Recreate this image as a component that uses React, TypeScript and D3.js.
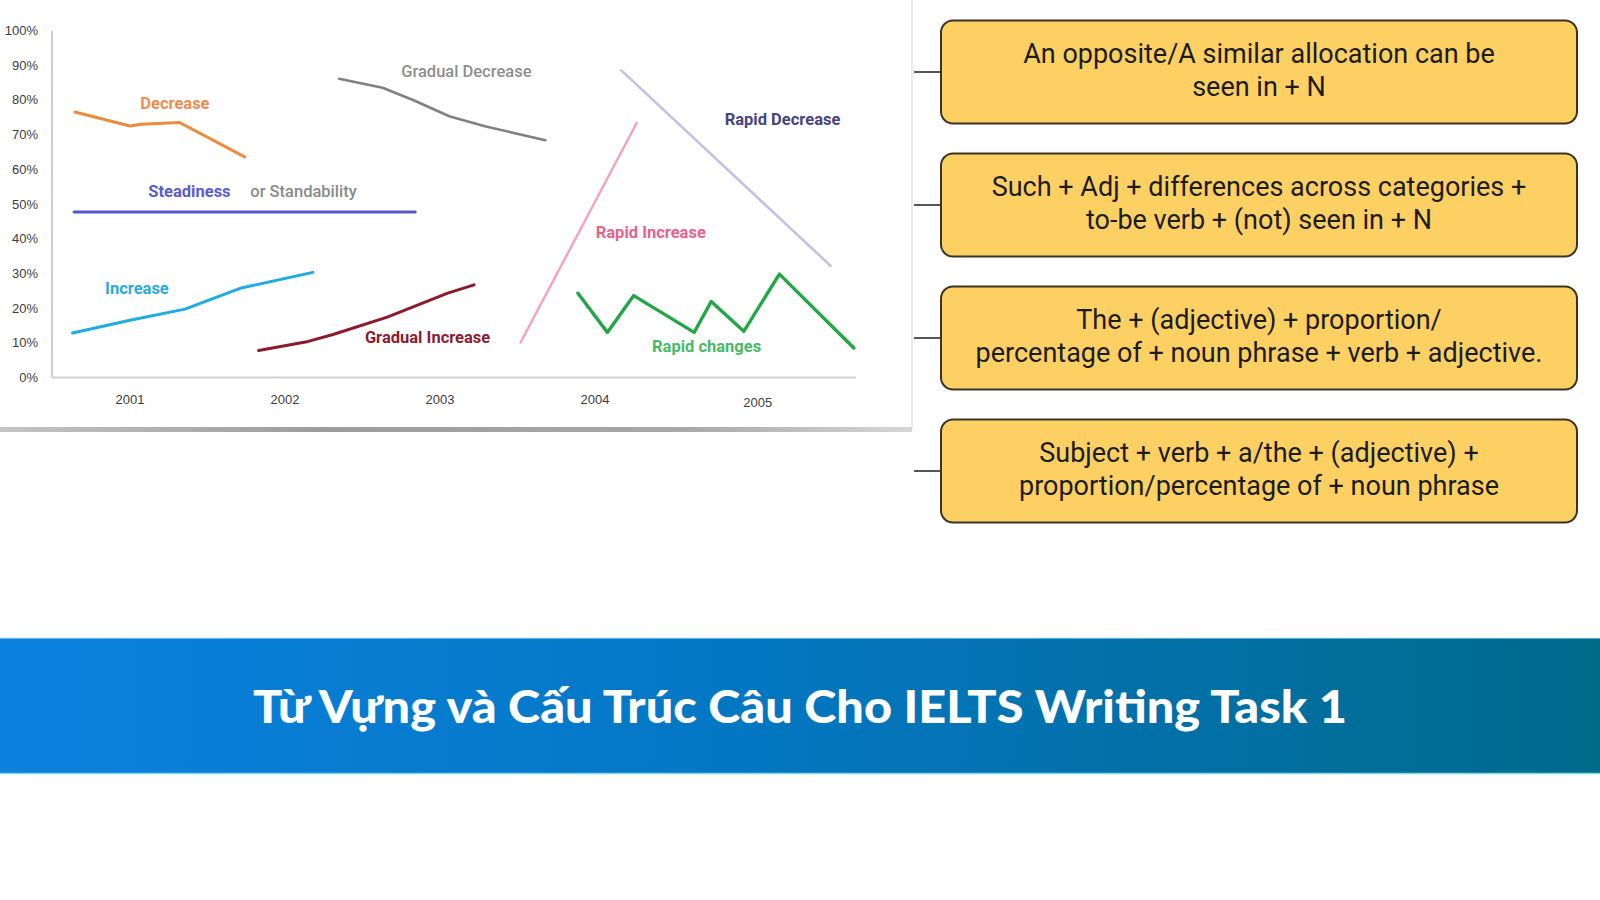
import { useEffect } from "react";
import * as d3 from "d3";

// ---- chart data (x in year units, y in percent) ----
const yTicks = [0, 10, 20, 30, 40, 50, 60, 70, 80, 90, 100];
const xTickYears = ["2001", "2002", "2003", "2004", "2005"];
const xTickPos = [2001, 2002, 2003, 2004, 2005.05];

const decrease = [
  { x: 2000.645, y: 76.5 }, { x: 2001.0, y: 72.5 }, { x: 2001.075, y: 73.0 },
  { x: 2001.32, y: 73.5 }, { x: 2001.74, y: 63.6 },
];
const steadiness = [{ x: 2000.64, y: 47.7 }, { x: 2002.84, y: 47.7 }];
const increase = [
  { x: 2000.63, y: 12.8 }, { x: 2001.0, y: 16.5 }, { x: 2001.355, y: 19.7 },
  { x: 2001.71, y: 25.7 }, { x: 2002.18, y: 30.3 },
];
const gradualIncrease = [
  { x: 2001.83, y: 7.8 }, { x: 2002.15, y: 10.4 }, { x: 2002.31, y: 12.4 },
  { x: 2002.66, y: 17.4 }, { x: 2003.05, y: 24.3 }, { x: 2003.22, y: 26.7 },
];
const gradualDecrease = [
  { x: 2002.35, y: 86.1 }, { x: 2002.63, y: 83.5 }, { x: 2002.83, y: 79.9 },
  { x: 2003.06, y: 75.3 }, { x: 2003.29, y: 72.4 }, { x: 2003.68, y: 68.4 },
];
const rapidIncrease = [{ x: 2003.52, y: 10.1 }, { x: 2004.27, y: 73.4 }];
const rapidDecrease = [{ x: 2004.17, y: 88.5 }, { x: 2005.52, y: 32.2 }];
const rapidChanges = [
  { x: 2003.89, y: 24.3 }, { x: 2004.08, y: 13.0 }, { x: 2004.25, y: 23.6 },
  { x: 2004.64, y: 13.0 }, { x: 2004.75, y: 21.9 }, { x: 2004.96, y: 13.3 },
  { x: 2005.19, y: 29.8 }, { x: 2005.67, y: 8.5 },
];

const series = [
  { name: "decrease", points: decrease, color: "#ee8a3c", width: 3 },
  { name: "steadiness", points: steadiness, color: "#5656cc", width: 3.2 },
  { name: "increase", points: increase, color: "#1faae2", width: 3 },
  { name: "gradualIncrease", points: gradualIncrease, color: "#8a1a2c", width: 3 },
  { name: "gradualDecrease", points: gradualDecrease, color: "#808080", width: 2.6 },
  { name: "rapidIncrease", points: rapidIncrease, color: "#f4a3b6", width: 2.4 },
  { name: "rapidDecrease", points: rapidDecrease, color: "#c4c1e6", width: 2.6 },
  { name: "rapidChanges", points: rapidChanges, color: "#22a646", width: 3.4 },
];

const annotations = [
  { text: "Decrease", x: 2001.29, y: 79.0, color: "#f08c50", weight: 700 },
  { text: "Steadiness", x: 2001.384, y: 53.8, color: "#5a5ad2", weight: 700 },
  { text: "or Standability", x: 2002.12, y: 53.8, color: "#8a8a8a", weight: 500 },
  { text: "Increase", x: 2001.045, y: 25.6, color: "#2ba9e0", weight: 700 },
  { text: "Gradual Increase", x: 2002.92, y: 11.5, color: "#8c1c30", weight: 700 },
  { text: "Gradual Decrease", x: 2003.17, y: 88.3, color: "#8e8e8e", weight: 500 },
  { text: "Rapid Decrease", x: 2005.21, y: 74.4, color: "#46447e", weight: 700 },
  { text: "Rapid Increase", x: 2004.36, y: 42.0, color: "#e9628c", weight: 700 },
  { text: "Rapid changes", x: 2004.72, y: 9.0, color: "#4cb867", weight: 700 },
];

// ---- right-hand sentence boxes ----
const boxLines = [
  ["An opposite/A similar allocation can be", "seen in + N"],
  ["Such + Adj + differences across categories +", "to-be verb + (not) seen in + N"],
  ["The + (adjective) + proportion/", "percentage of + noun phrase + verb + adjective."],
  ["Subject + verb + a/the + (adjective) +", "proportion/percentage of + noun phrase"],
];

const title = "Từ Vựng và Cấu Trúc Câu Cho IELTS Writing Task 1";

export default function App() {
  useEffect(() => {
    document.body.style.margin = "0";
  }, []);

  const W = 1600;
  const H = 900;

  const x = d3.scaleLinear().domain([2000.497, 2005.684]).range([52, 856]);
  const y = d3.scaleLinear().domain([0, 100]).range([377.5, 30.5]);

  const line = d3
    .line<{ x: number; y: number }>()
    .x((d) => x(d.x))
    .y((d) => y(d.y));

  // box layout
  const boxX = 941;
  const boxW = 636;
  const boxH = 103;
  const boxY = d3.scaleLinear().domain([0, 1]).range([20.5, 153.5]);

  return (
    <svg width={W} height={H} style={{ display: "block", background: "#fff" }}>
      <defs>
        <linearGradient id="banner" x1="0" x2="1" y1="0" y2="0">
          <stop offset="0%" stopColor="#0b81de" />
          <stop offset="45%" stopColor="#0477c4" />
          <stop offset="100%" stopColor="#006a8b" />
        </linearGradient>
        <linearGradient id="shadow" x1="0" x2="1" y1="0" y2="0">
          <stop offset="0%" stopColor="#c4c4c4" />
          <stop offset="35%" stopColor="#9c9c9c" />
          <stop offset="75%" stopColor="#a8a8a8" />
          <stop offset="100%" stopColor="#d6d6d6" />
        </linearGradient>
      </defs>

      {/* chart panel */}
      <rect x={0} y={0} width={912} height={427} fill="#ffffff" />
      <line x1={912} x2={912} y1={0} y2={428} stroke="#e2e2e2" strokeWidth={1.5} />
      <rect x={0} y={427} width={912} height={5} fill="url(#shadow)" />

      {/* axes */}
      <line x1={x.range()[0]} x2={x.range()[0]} y1={y(100)} y2={y(0)} stroke="#cfcfcf" strokeWidth={2} />
      <line x1={x.range()[0]} x2={x.range()[1]} y1={y(0)} y2={y(0)} stroke="#cfcfcf" strokeWidth={2} />

      {yTicks.map((t) => (
        <text
          key={t}
          x={38}
          y={y(t)}
          dy="0.35em"
          textAnchor="end"
          fontFamily="Liberation Sans, Arial, sans-serif"
          fontSize={13}
          fill="#3c3c3c"
        >
          {t + "%"}
        </text>
      ))}
      {xTickYears.map((t, i) => (
        <text
          key={t}
          x={x(xTickPos[i])}
          y={404 + (i === 4 ? 3 : 0)}
          textAnchor="middle"
          fontFamily="Liberation Sans, Arial, sans-serif"
          fontSize={13}
          fill="#3c3c3c"
        >
          {t}
        </text>
      ))}

      {/* trend lines */}
      {series.map((s) => (
        <path
          key={s.name}
          d={line(s.points) || ""}
          fill="none"
          stroke={s.color}
          strokeWidth={s.width}
          strokeLinejoin="round"
          strokeLinecap="round"
        />
      ))}

      {annotations.map((a) => (
        <text
          key={a.text}
          x={x(a.x)}
          y={y(a.y)}
          dy="0.35em"
          textAnchor="middle"
          fontFamily="Roboto, Arial, sans-serif"
          fontSize={16.5}
          fontWeight={a.weight}
          fill={a.color}
        >
          {a.text}
        </text>
      ))}

      {/* sentence boxes */}
      {boxLines.map((lines, i) => {
        const top = boxY(i);
        const cy = top + boxH / 2;
        return (
          <g key={i}>
            <line x1={914} x2={boxX} y1={cy} y2={cy} stroke="#555" strokeWidth={2} />
            <rect
              x={boxX}
              y={top}
              width={boxW}
              height={boxH}
              rx={12}
              fill="#fdd064"
              stroke="#3a3424"
              strokeWidth={2}
            />
            {lines.map((l, j) => (
              <text
                key={j}
                x={boxX + boxW / 2}
                y={top + (j === 0 ? 42.5 : 75)}
                textAnchor="middle"
                fontFamily="Roboto, Arial, sans-serif"
                fontSize={27}
                fill="#1c1c1c"
              >
                {l}
              </text>
            ))}
          </g>
        );
      })}

      {/* banner */}
      <rect x={0} y={638} width={W} height={135} fill="url(#banner)" />
      <line x1={0} x2={W} y1={638} y2={638} stroke="#bfefff" strokeWidth={1} />
      <line x1={0} x2={W} y1={773.5} y2={773.5} stroke="#7fd6e6" strokeWidth={1.5} />
      <text
        x={W / 2}
        y={723}
        textAnchor="middle"
        fontFamily="Lato, sans-serif"
        fontWeight={900}
        fontSize={46}
        textLength={1094}
        lengthAdjust="spacingAndGlyphs"
        fill="#ffffff"
      >
        {title}
      </text>
    </svg>
  );
}
